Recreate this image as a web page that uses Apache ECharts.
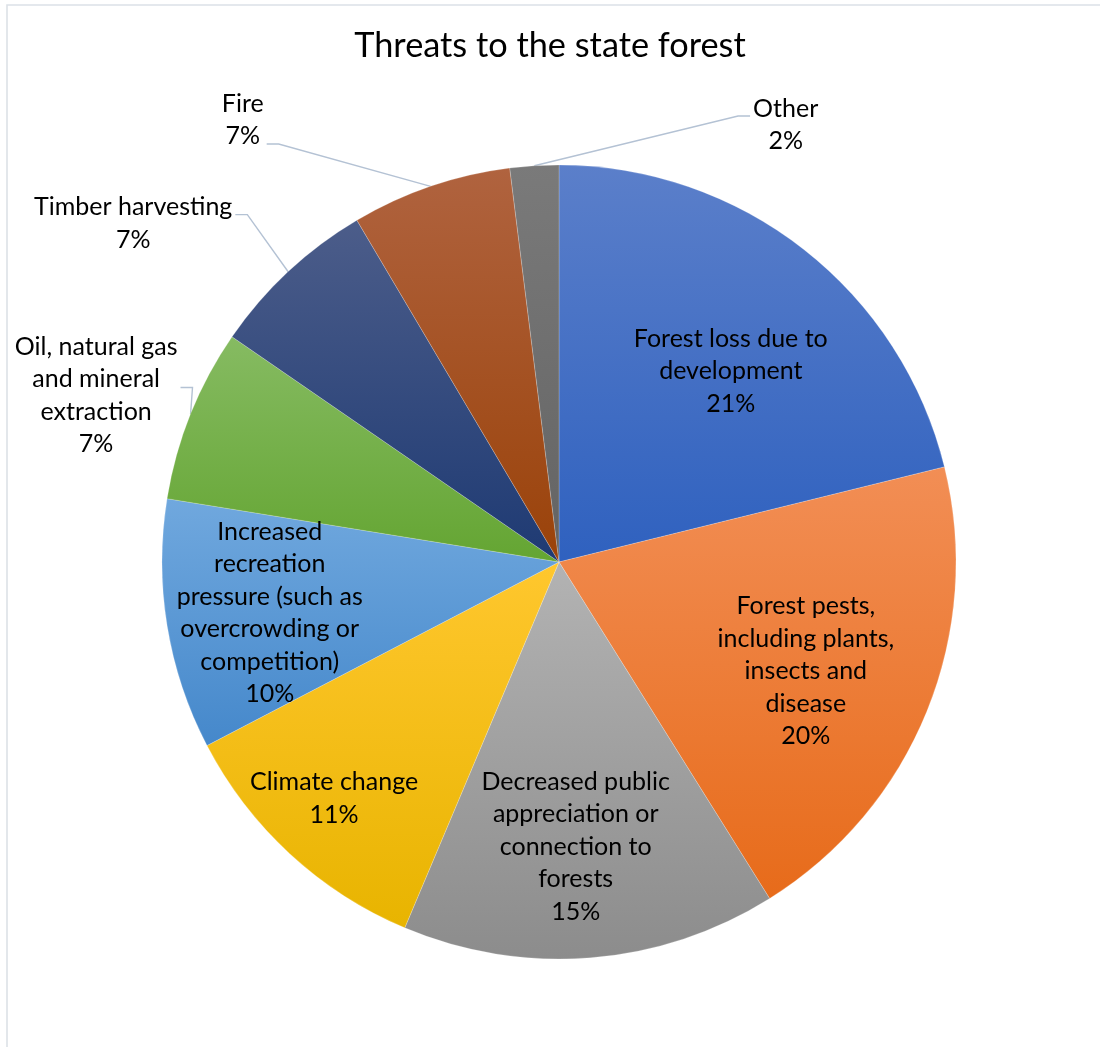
<!DOCTYPE html>
<html><head><meta charset="utf-8">
<script src="https://cdn.jsdelivr.net/npm/echarts@6/dist/echarts.min.js"></script>
<style>html,body{margin:0;padding:0;background:#fff}#c{width:1100px;height:1047px}</style>
</head><body><div id="c"></div>
<script>
// ---- data ----
const categories = [
  'Forest loss due to development',
  'Forest pests, including plants, insects and disease',
  'Decreased public appreciation or connection to forests',
  'Climate change',
  'Increased recreation pressure (such as overcrowding or competition)',
  'Oil, natural gas and mineral extraction',
  'Timber harvesting',
  'Fire',
  'Other'
];
const labelText = [
  ['Forest loss due to', 'development'],
  ['Forest pests,', 'including plants,', 'insects and', 'disease'],
  ['Decreased public', 'appreciation or', 'connection to', 'forests'],
  ['Climate change'],
  ['Increased', 'recreation', 'pressure (such as', 'overcrowding or', 'competition)'],
  ['Oil, natural gas', 'and mineral', 'extraction'],
  ['Timber harvesting'],
  ['Fire'],
  ['Other']
];
const values = [21.15, 19.95, 15.25, 11.0, 10.2, 7.05, 6.9, 6.52, 1.98];

// ---- style ----
const topColors    = ['#5B7FCA', '#F28E55', '#B3B3B3', '#FFC72E', '#70A8DE', '#86BB62', '#4C5D8A', '#B0633F', '#7A7A7A'];
const bottomColors = ['#2F61BF', '#E76B1A', '#8C8C8C', '#E8B400', '#4588CB', '#64A532', '#1E3A73', '#9A4209', '#636363'];
// label placement: [radius fraction, angle offset from slice middle (deg)]
const labelPlace = [[0.647, 3.91], [0.68, 1.83], [0.718, 1.23], [0.822, 0.91], [0.74, -0.85],
                    [1.239, -2.09], [1.37, -8.51], [1.369, -16.72], [1.24, 30.98]];
const isOutside = [false, false, false, false, false, true, true, true, true];
// leader anchor: [side (+1 right / -1 left), vertical offset from label centre]
const leaderAnchor = [null, null, null, null, null, [1, -8], [1, -9], [1, 24], [-1, -9]];
const LEADER_STUB = 12;

const CX = 559, CY = 562, R = 397;
const FONT = 'Lato';

const total = values.reduce((a, b) => a + b, 0);
const midAngle = [];
let acc = 0;
values.forEach(v => { midAngle.push((acc + v / 2) / total * 360); acc += v; });

const data = values.map((v, i) => ({
  name: categories[i],
  value: v,
  itemStyle: {
    color: {type: 'linear', x: 0, y: 0, x2: 0, y2: 1,
      colorStops: [{offset: 0, color: topColors[i]}, {offset: 1, color: bottomColors[i]}]}
  },
  label: {position: isOutside[i] ? 'outside' : 'inside'},
  labelLine: {show: isOutside[i]}
}));

const chart = echarts.init(document.getElementById('c'), null, {renderer: 'canvas'});
chart.setOption({
  animation: false,
  backgroundColor: '#fff',
  title: {
    text: 'Threats to the state forest',
    left: 'center', top: 24,
    textStyle: {fontFamily: FONT, fontSize: 34.3, fontWeight: 'normal', color: '#000'}
  },
  graphic: [{
    type: 'rect', silent: true,
    shape: {x: 7, y: 5, width: 1200, height: 1200},
    style: {fill: null, stroke: '#DCE1E7', lineWidth: 1.6}
  }],
  series: [{
    type: 'pie',
    center: [CX, CY],
    radius: R,
    startAngle: 90,
    clockwise: true,
    avoidLabelOverlap: false,
    itemStyle: {borderColor: 'rgba(255,255,255,0.5)', borderWidth: 0.4},
    label: {
      show: true,
      fontFamily: FONT, fontSize: 25, lineHeight: 32.5, color: '#000',
      align: 'center', overflow: 'none',
      formatter: p => labelText[p.dataIndex].concat([Math.round(p.value / total * 100) + '%']).join('\n')
    },
    labelLine: {show: true, lineStyle: {color: '#B4C2D4', width: 1.4}},
    emphasis: {disabled: true},
    labelLayout: function (p) {
      const i = p.dataIndex;
      const a = (midAngle[i] + labelPlace[i][1]) * Math.PI / 180;
      const r = labelPlace[i][0] * R;
      const x = CX + r * Math.sin(a), y = CY - r * Math.cos(a);
      const out = {x: x, y: y, align: 'center', verticalAlign: 'middle'};
      if (isOutside[i]) {
        const ma = midAngle[i] * Math.PI / 180;
        const ex = CX + R * Math.sin(ma), ey = CY - R * Math.cos(ma);
        const w = p.labelRect.width;
        const side = leaderAnchor[i][0];
        const ax = x + side * (w / 2 + 3), ay = y + leaderAnchor[i][1];
        out.labelLinePoints = [[ex, ey], [ax + side * LEADER_STUB, ay], [ax, ay]];
      }
      return out;
    },
    data: data
  }]
});
</script>
</body></html>
